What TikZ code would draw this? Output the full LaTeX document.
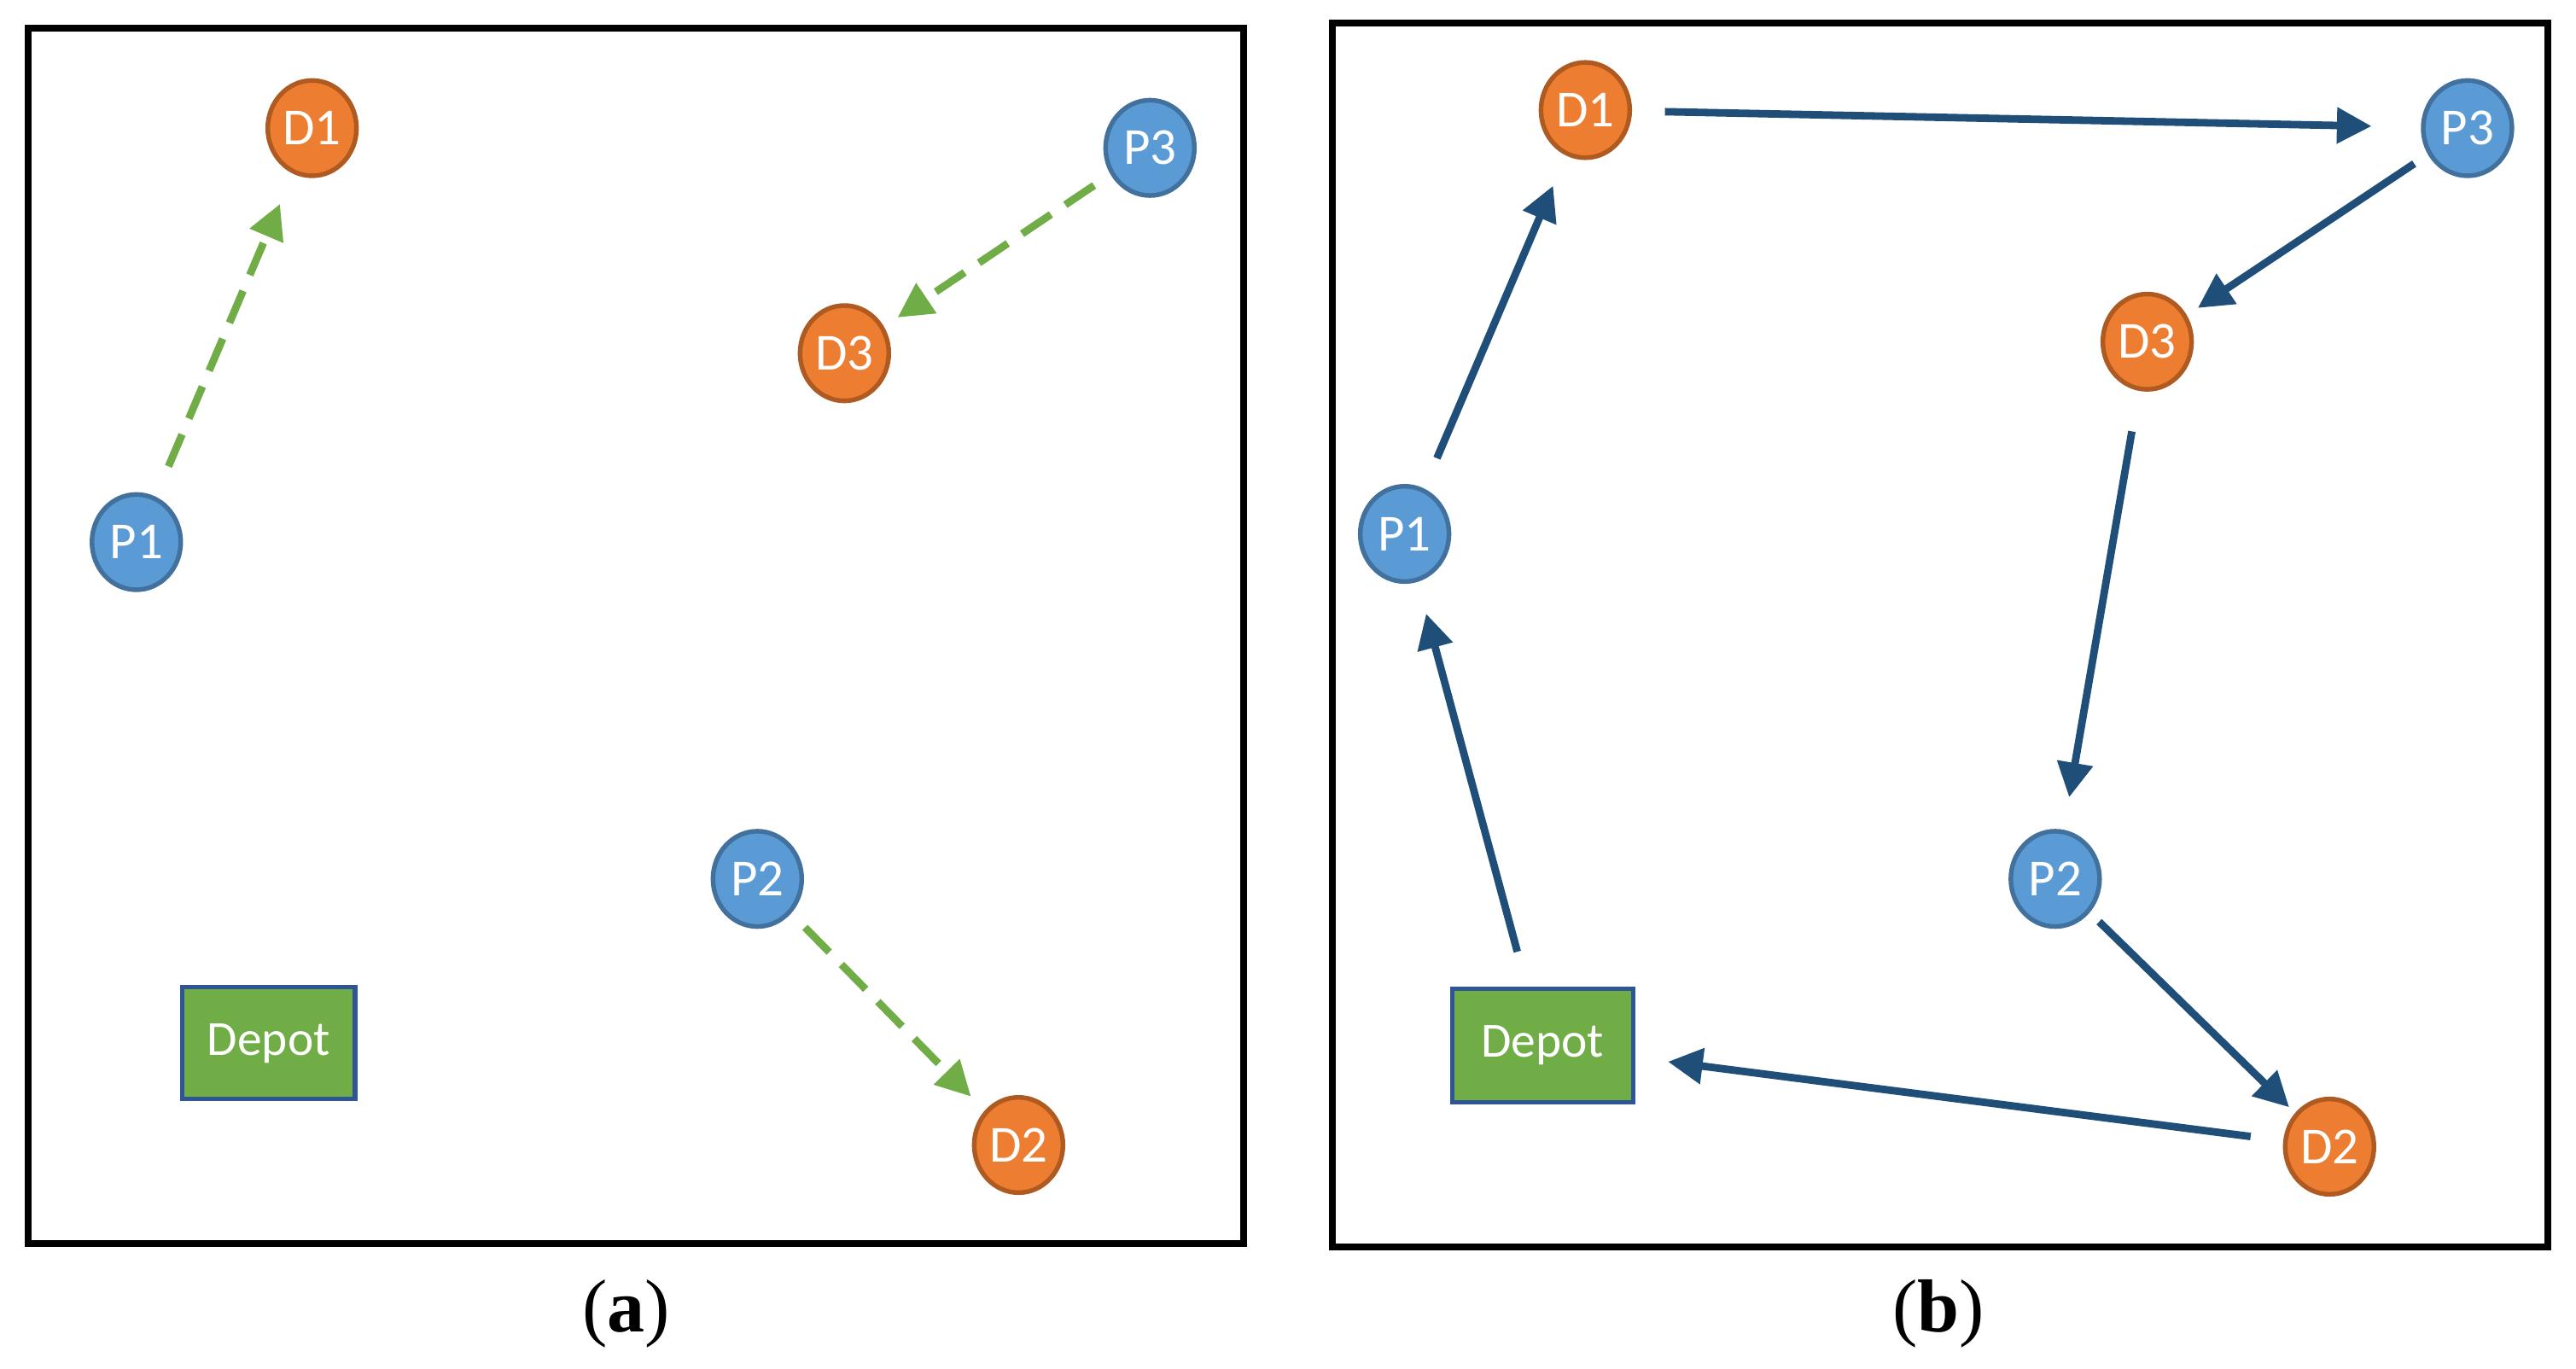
\documentclass[tikz,border=0pt]{standalone}
\usepackage{fontspec}
\setmainfont{Liberation Serif}
\newfontfamily\calib{Carlito}
\usetikzlibrary{arrows.meta}
\definecolor{pblue}{HTML}{5B9BD5}
\definecolor{pblueb}{HTML}{41719C}
\definecolor{dor}{HTML}{ED7D31}
\definecolor{dorb}{HTML}{AE5A21}
\definecolor{dep}{HTML}{70AD47}
\definecolor{depb}{HTML}{2F5597}
\definecolor{arr}{HTML}{1F4E79}
\begin{document}
\begin{tikzpicture}[x=0.01cm,y=-0.01cm,
  pn/.style={ellipse,draw=pblueb,fill=pblue,line width=0.8pt,minimum width=0.54cm,minimum height=0.58cm,inner sep=0pt,text=white,font=\calib\fontsize{9}{9}\selectfont},
  dn/.style={pn,draw=dorb,fill=dor},
  dp/.style={draw=depb,fill=dep,line width=0.8pt,text=white,font=\calib\fontsize{8.5}{9}\selectfont,inner sep=0pt},
  ga/.style={draw=dep,dashed,line width=1.3pt,dash pattern=on 6pt off 3pt,-{Triangle[length=6pt,width=6pt]}},
  ba/.style={draw=arr,line width=1.3pt,-{Triangle[length=6pt,width=6pt]}},
  box/.style={draw=black,line width=1.2pt}]
\usetikzlibrary{shapes.geometric}
\fill[white] (0,0) rectangle (1568,833);
\draw[box] (17,17) rectangle (757,757);
\draw[box] (811,14) rectangle (1551,759);
\node[font=\fontsize{13}{13}\selectfont] (la) at (381,800) {(\textbf{a})};
\node[font=\fontsize{13}{13}\selectfont] (lb) at (1180,800) {(\textbf{b})};
% panel a
\node[dn] (aD1) at (190,78) {D1};
\node[pn] (aP3) at (700,90) {P3};
\node[dn] (aD3) at (514,215) {D3};
\node[pn] (aP1) at (83,330) {P1};
\node[pn] (aP2) at (461,535) {P2};
\node[dn] (aD2) at (620,697) {D2};
\node[dp,minimum width=1.05cm,minimum height=0.68cm] (aDep) at (163.5,635) {Depot};
\draw[ga,shorten <=20pt*0+0.2cm,shorten >=0.2cm] (aP1) -- (aD1);
\draw[ga,shorten <=0.12cm,shorten >=0.1cm] (aP3) -- (aD3);
\draw[ga,shorten <=0.12cm,shorten >=0.12cm] (aP2) -- (aD2);
% panel b
\node[dn] (bD1) at (965,67) {D1};
\node[pn] (bP3) at (1502,78) {P3};
\node[dn] (bD3) at (1307,208) {D3};
\node[pn] (bP1) at (855,325) {P1};
\node[pn] (bP2) at (1251,535) {P2};
\node[dn] (bD2) at (1418,698) {D2};
\node[dp,minimum width=1.1cm,minimum height=0.69cm] (bDep) at (939,636.5) {Depot};
\draw[ba,shorten <=0.2cm,shorten >=0.3cm] (bD1) -- (bP3);
\draw[ba,shorten <=0.1cm,shorten >=0.08cm] (bP3) -- (bD3);
\draw[ba,shorten <=0.25cm,shorten >=0.2cm] (bD3) -- (bP2);
\draw[ba,shorten <=0.08cm,shorten >=0.05cm] (bP2) -- (bD2);
\draw[ba,shorten <=0.2cm,shorten >=0.2cm] (bD2) -- (bDep);
\draw[ba,shorten <=0.22cm,shorten >=0.2cm] (bDep) -- (bP1);
\draw[ba,shorten <=0.2cm,shorten >=0.2cm] (bP1) -- (bD1);
\end{tikzpicture}
\end{document}
